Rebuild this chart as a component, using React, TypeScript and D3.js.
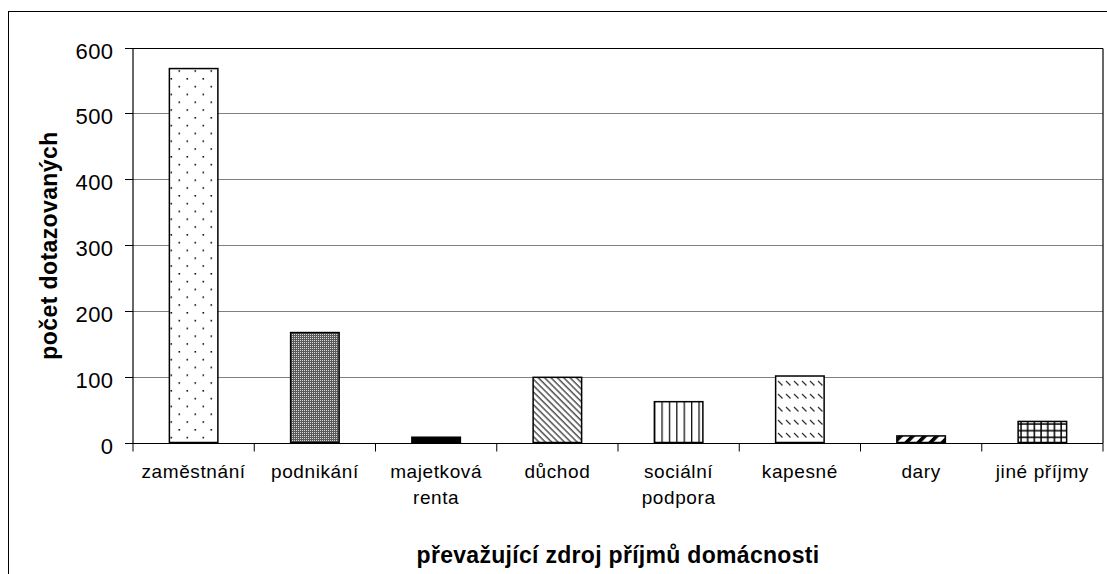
import * as d3 from "d3";

const categories: string[][] = [
  ["zaměstnání"],
  ["podnikání"],
  ["majetková", "renta"],
  ["důchod"],
  ["sociální", "podpora"],
  ["kapesné"],
  ["dary"],
  ["jiné příjmy"],
];
const values = [568, 167, 8, 99, 62, 101, 10, 32];
const patterns = ["dots", "fine", "solid", "diagDown", "vert", "dashes", "thick", "grid"];
const yTicks = [0, 100, 200, 300, 400, 500, 600];

const xTitle = "převažující zdroj příjmů domácnosti";
const yTitle = "počet dotazovaných";

const W = 1107;
const H = 574;
const FONT = "'Liberation Sans', Arial, Helvetica, sans-serif";

export default function App() {
  const left = 133, right = 1103, top = 47.5, bottom = 442.5;
  const keys = categories.map((c) => c.join(" "));
  const x = d3.scaleBand<string>().domain(keys).range([left, right]).padding(0);
  const y = d3.scaleLinear().domain([0, 600]).range([bottom, top]);
  const bw = x.bandwidth() * 0.4;
  const px = (v: number) => Math.round(y(v)) + 0.5;

  return (
    <svg
      width={W}
      height={H}
      style={{ position: "absolute", left: 0, top: 0, display: "block", background: "#fff" }}
      fontFamily={FONT}
    >
      <defs>
        <pattern id="dots" patternUnits="userSpaceOnUse" width={16} height={15.6} x={170} y={0}>
          <rect width={16} height={15.6} fill="#fff" />
          <rect x={0.5} y={0} width={1.6} height={1.6} fill="#111" />
          <rect x={8.5} y={7.8} width={1.6} height={1.6} fill="#111" />
        </pattern>
        <pattern id="fine" patternUnits="userSpaceOnUse" width={2} height={2}>
          <rect width={2} height={2} fill="#5a5a5a" />
          <rect width={1} height={1} fill="#d8d8d8" />
        </pattern>
        <pattern id="solid" patternUnits="userSpaceOnUse" width={4} height={4}>
          <rect width={4} height={4} fill="#000" />
        </pattern>
        <pattern id="diagDown" patternUnits="userSpaceOnUse" width={4.5} height={10} patternTransform="rotate(-45)">
          <rect width={4.5} height={10} fill="#fff" />
          <line x1={1} y1={0} x2={1} y2={10} stroke="#111" strokeWidth={1.1} />
        </pattern>
        <pattern id="vert" patternUnits="userSpaceOnUse" width={7.4} height={10} x={654}>
          <rect width={7.4} height={10} fill="#fff" />
          <line x1={0.5} y1={0} x2={0.5} y2={10} stroke="#111" strokeWidth={1.6} />
        </pattern>
        <pattern id="dashes" patternUnits="userSpaceOnUse" width={8} height={13} x={776} y={378}>
          <rect width={8} height={13} fill="#fff" />
          <line x1={2} y1={3} x2={6.5} y2={7.5} stroke="#333" strokeWidth={1.2} />
        </pattern>
        <pattern id="thick" patternUnits="userSpaceOnUse" width={8.5} height={10} patternTransform="rotate(45)">
          <rect width={8.5} height={10} fill="#fff" />
          <rect x={0} y={0} width={3.6} height={10} fill="#000" />
        </pattern>
        <pattern id="grid" patternUnits="userSpaceOnUse" width={6.7} height={6.7} x={1018} y={421}>
          <rect width={6.7} height={6.7} fill="#fff" />
          <line x1={3} y1={0} x2={3} y2={6.7} stroke="#000" strokeWidth={1.5} />
          <line x1={0} y1={3} x2={6.7} y2={3} stroke="#000" strokeWidth={1.5} />
        </pattern>
      </defs>

      {/* outer chart frame */}
      <rect x={8.5} y={11.5} width={1200} height={700} fill="#fff" stroke="#000" strokeWidth={1} />

      {/* gridlines */}
      {yTicks.filter((t) => t > 0 && t < 600).map((t) => (
        <line key={t} x1={left} x2={right} y1={px(t)} y2={px(t)} stroke="#808080" strokeWidth={1} />
      ))}

      {/* plot frame top/right */}
      <line x1={left} x2={right} y1={px(600)} y2={px(600)} stroke="#000" strokeWidth={1.2} />
      <line x1={right} x2={right} y1={px(600)} y2={px(0)} stroke="#000" strokeWidth={1.2} />

      {/* bars */}
      {keys.map((k, i) => {
        const bx = (x(k) ?? 0) + (x.bandwidth() - bw) / 2;
        const by = y(values[i]);
        return (
          <rect
            key={k}
            x={bx}
            y={by}
            width={bw}
            height={y(0) - by}
            fill={`url(#${patterns[i]})`}
            stroke="#000"
            strokeWidth={1.5}
          />
        );
      })}

      {/* y axis */}
      <line x1={left} x2={left} y1={px(600)} y2={px(0)} stroke="#000" strokeWidth={1.2} />
      {yTicks.map((t) => (
        <g key={t}>
          <line x1={left - 8} x2={left} y1={px(t)} y2={px(t)} stroke="#000" strokeWidth={1} />
          <text x={113.5} y={px(t) + 10} textAnchor="end" fontSize={22} letterSpacing={0.4} fill="#000">
            {t}
          </text>
        </g>
      ))}

      {/* x axis */}
      <line x1={left} x2={right} y1={px(0)} y2={px(0)} stroke="#000" strokeWidth={1.2} />
      {[...keys.map((k) => x(k) ?? 0), right].map((tx, i) => (
        <line key={i} x1={tx} x2={tx} y1={px(0)} y2={px(0) + 8} stroke="#000" strokeWidth={1} />
      ))}
      {categories.map((lines, i) => {
        const cx = (x(keys[i]) ?? 0) + x.bandwidth() / 2;
        return (
          <text key={keys[i]} x={cx} y={478} textAnchor="middle" fontSize={19} letterSpacing={0.6} fill="#000">
            {lines.map((ln, j) => (
              <tspan key={j} x={cx} dy={j === 0 ? 0 : 26}>
                {ln}
              </tspan>
            ))}
          </text>
        );
      })}

      {/* axis titles */}
      <text x={618} y={563} textAnchor="middle" fontSize={23} fontWeight="bold" letterSpacing={0.3} fill="#000">
        {xTitle}
      </text>
      <text
        transform="translate(57,245.5) rotate(-90)"
        textAnchor="middle"
        fontSize={23}
        fontWeight="bold"
        letterSpacing={0.4}
        fill="#000"
      >
        {yTitle}
      </text>
    </svg>
  );
}
